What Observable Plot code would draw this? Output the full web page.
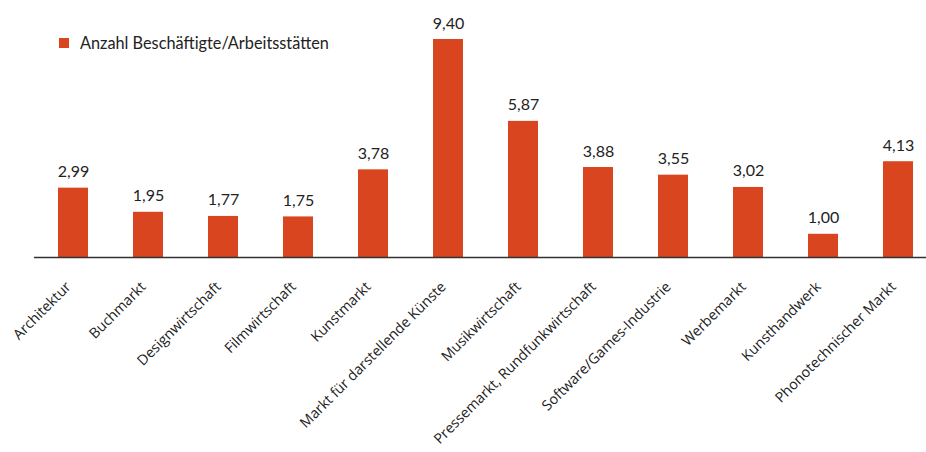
<!DOCTYPE html>
<html><head><meta charset="utf-8">
<script src="https://cdn.jsdelivr.net/npm/d3@7"></script>
<script src="https://cdn.jsdelivr.net/npm/@observablehq/plot@0.6"></script>
<style>
body{margin:0;background:#fff;}
#wrap{position:relative;width:926px;height:452px;}
#legend{position:absolute;left:59px;top:33px;font-family:Lato,"Open Sans",sans-serif;font-size:16.3px;color:#222;display:flex;align-items:center;}
#legend span.sw{display:inline-block;width:10px;height:10px;background:#d9451f;margin-right:11px;}
</style></head>
<body><div id="wrap"><div id="legend"><span class="sw"></span><span>Anzahl Beschäftigte/Arbeitsstätten</span></div></div>
<script>
const categories = ["Architektur","Buchmarkt","Designwirtschaft","Filmwirtschaft","Kunstmarkt","Markt für darstellende Künste","Musikwirtschaft","Pressemarkt, Rundfunkwirtschaft","Software/Games-Industrie","Werbemarkt","Kunsthandwerk","Phonotechnischer Markt"];
const values = [2.99,1.95,1.77,1.75,3.78,9.40,5.87,3.88,3.55,3.02,1.00,4.13];
const seriesName = "Anzahl Beschäftigte/Arbeitsstätten";
const data = categories.map((c,i)=>({cat:c,val:values[i]}));
const fmt = v => v.toFixed(2).replace(".", ",");
const chart = Plot.plot({
  width:926, height:452,
  marginLeft:34, marginRight:0, marginTop:39, marginBottom:195,
  style:{fontFamily:"'Open Sans',sans-serif", background:"#fff"},
  x:{domain:categories, paddingInner:0.6, paddingOuter:0.235, align:0.643, label:null},
  y:{domain:[0,9.4], axis:null},
  marks:[
    Plot.barY(data,{x:"cat",y:"val",fill:"#d9451f"}),
    Plot.ruleY([0],{stroke:"#333",strokeWidth:1.5}),
    Plot.text(data,{x:"cat",y:"val",text:d=>fmt(d.val),lineAnchor:"bottom",dy:-11,fontSize:16,fill:"#222",fontFamily:"Lato,sans-serif"}),
    Plot.axisX({tickSize:0,tickPadding:27,tickRotate:-45,fontSize:14.3,fill:"#222",label:null,dx:-5,fontFamily:"'Open Sans',sans-serif"})
  ]
});
document.getElementById("wrap").prepend(chart);
</script></body></html>
